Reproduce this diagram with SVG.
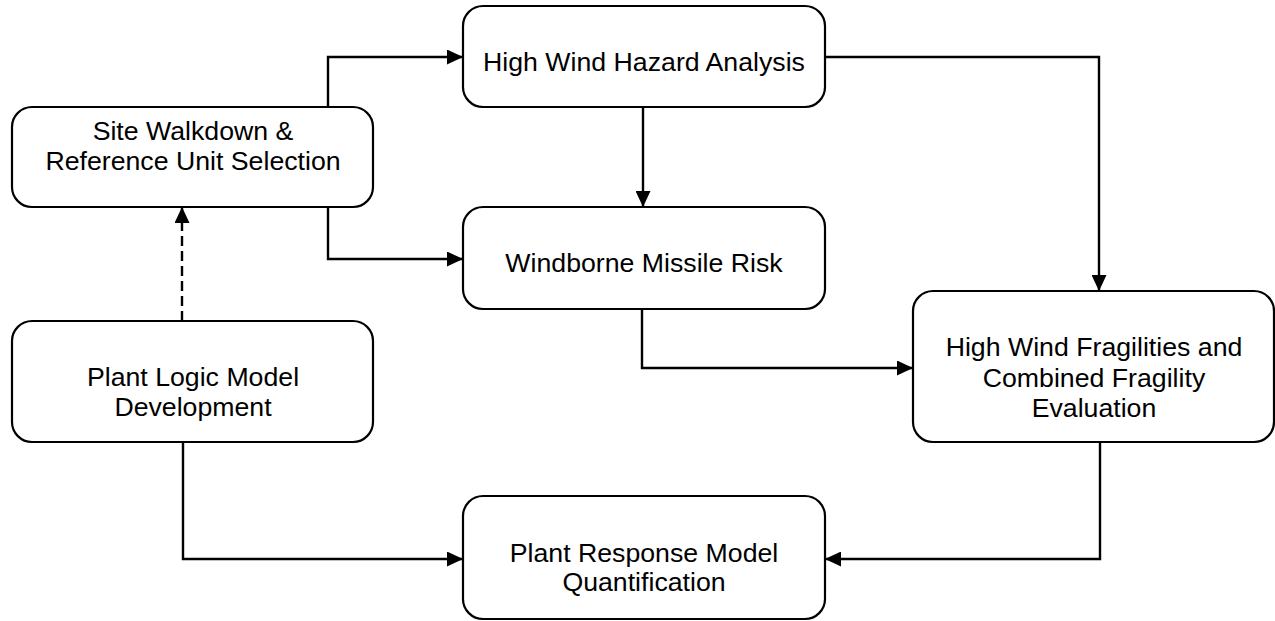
<svg xmlns="http://www.w3.org/2000/svg" width="1275" height="621" viewBox="0 0 1275 621">
  <style>
    .box { fill: #ffffff; stroke: #000000; stroke-width: 2.2; }
    .lbl { font-family: "Liberation Sans", Arial, sans-serif; font-size: 26.7px; fill: #000000; text-anchor: middle; }
    .wire { fill: none; stroke: #000000; stroke-width: 2.4; }
    .dash { stroke-dasharray: 10 5; }
  </style>
  <defs>
    <marker id="arrow" viewBox="0 0 16 15" refX="16" refY="7.5" markerWidth="16" markerHeight="15" markerUnits="userSpaceOnUse" orient="auto">
      <path d="M0,0 L16,7.5 L0,15 Z" fill="#000000"/>
    </marker>
  </defs>

  <rect width="1275" height="621" fill="#ffffff"/>

  <!-- connectors -->
  <g id="connectors">
    <path class="wire" d="M328,107 V57 H463" marker-end="url(#arrow)"/>
    <path class="wire" d="M328,207 V259 H463" marker-end="url(#arrow)"/>
    <path class="wire dash" d="M182,321 V207" marker-end="url(#arrow)"/>
    <path class="wire" d="M643,107 V207" marker-end="url(#arrow)"/>
    <path class="wire" d="M825,57 H1099 V291" marker-end="url(#arrow)"/>
    <path class="wire" d="M642,309 V368 H913" marker-end="url(#arrow)"/>
    <path class="wire" d="M183,442 V559 H463" marker-end="url(#arrow)"/>
    <path class="wire" d="M1100,442 V559 H825" marker-end="url(#arrow)"/>
  </g>

  <!-- nodes -->
  <g id="site-walkdown">
    <rect class="box" x="12" y="107" width="361" height="100" rx="20" ry="20"/>
    <text class="lbl" x="193" y="140">Site Walkdown &amp;</text>
    <text class="lbl" x="193" y="170">Reference Unit Selection</text>
  </g>

  <g id="hazard-analysis">
    <rect class="box" x="463" y="6" width="362" height="101" rx="20" ry="20"/>
    <text class="lbl" x="644" y="71">High Wind Hazard Analysis</text>
  </g>

  <g id="missile-risk">
    <rect class="box" x="463" y="207" width="362" height="102" rx="20" ry="20"/>
    <text class="lbl" x="644" y="272">Windborne Missile Risk</text>
  </g>

  <g id="plant-logic">
    <rect class="box" x="12" y="321" width="361" height="121" rx="20" ry="20"/>
    <text class="lbl" x="193" y="386">Plant Logic Model</text>
    <text class="lbl" x="193" y="416">Development</text>
  </g>

  <g id="fragility-evaluation">
    <rect class="box" x="913" y="291" width="361" height="151" rx="20" ry="20"/>
    <text class="lbl" x="1094" y="356">High Wind Fragilities and</text>
    <text class="lbl" x="1094" y="387">Combined Fragility</text>
    <text class="lbl" x="1094" y="417">Evaluation</text>
  </g>

  <g id="plant-response">
    <rect class="box" x="463" y="496" width="362" height="123" rx="20" ry="20"/>
    <text class="lbl" x="644" y="562">Plant Response Model</text>
    <text class="lbl" x="644" y="591">Quantification</text>
  </g>
</svg>
